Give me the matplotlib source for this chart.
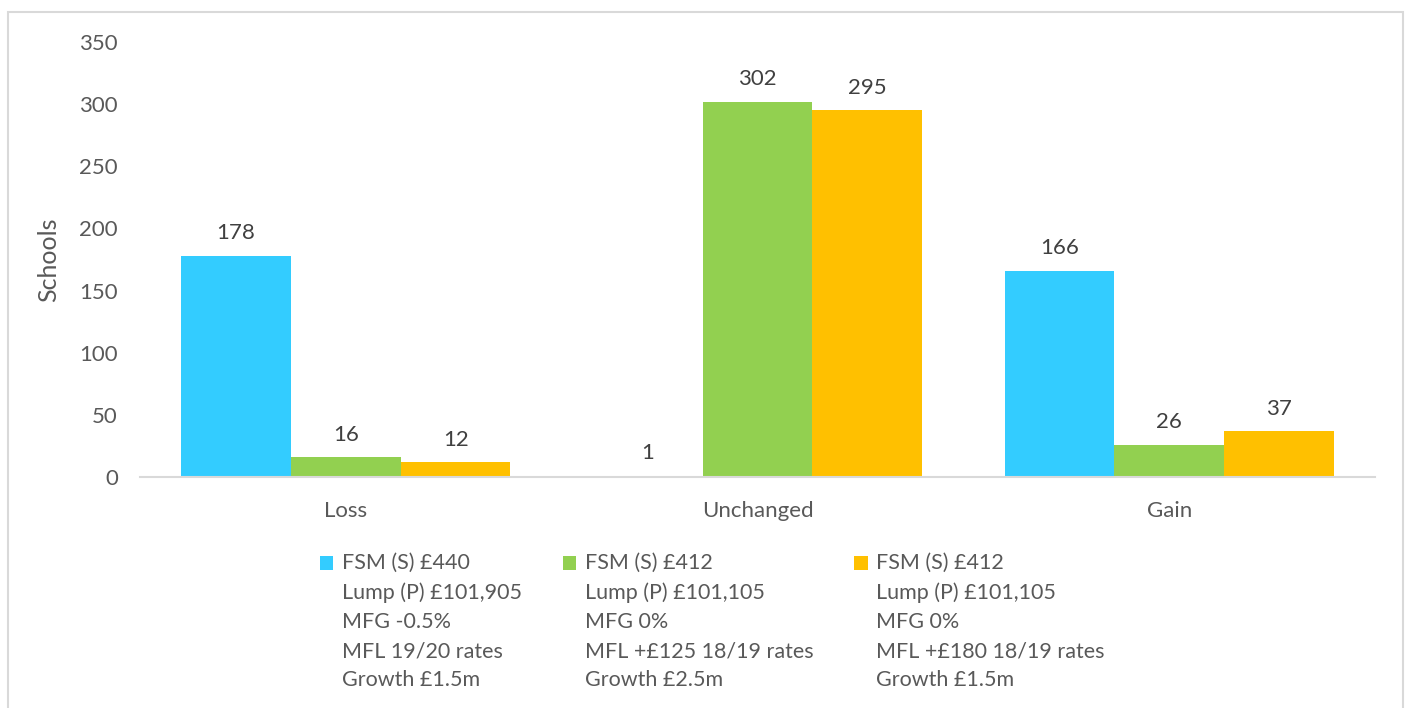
import matplotlib.pyplot as plt
import numpy as np
from matplotlib.patches import Rectangle
from matplotlib.legend_handler import HandlerPatch

# --- data ---
categories = ["Loss", "Unchanged", "Gain"]
series_labels = [
    "FSM (S) £440\nLump (P) £101,905\nMFG -0.5%\nMFL 19/20 rates\nGrowth £1.5m",
    "FSM (S) £412\nLump (P) £101,105\nMFG 0%\nMFL +£125 18/19 rates\nGrowth £2.5m",
    "FSM (S) £412\nLump (P) £101,105\nMFG 0%\nMFL +£180 18/19 rates\nGrowth £1.5m",
]
series_a = [178, 1, 166]
series_b = [16, 302, 26]
series_c = [12, 295, 37]
colors = ["#33CCFF", "#92D050", "#FFC000"]

TXT = "#595959"
FS = 16
plt.rcParams['font.family'] = ['Lato', 'DejaVu Sans']


# legend square sits next to the first line of a multi-line label
class TopSquare(HandlerPatch):
    def __init__(self, shift):
        super().__init__()
        self.shift = shift

    def create_artists(self, legend, orig_handle, xdescent, ydescent,
                       width, height, fontsize, trans):
        p = Rectangle((-xdescent, -ydescent + self.shift), width, height,
                      facecolor=orig_handle.get_facecolor(), edgecolor="none",
                      transform=trans)
        return [p]


fig = plt.figure(figsize=(14.06, 7.08), dpi=100)
ax = fig.add_axes([140/1406, 1-477/708, 1235/1406, 435/708])

x = np.arange(len(categories))
w = 0.8 / 3
handles = []
for i, (vals, col, lab) in enumerate(zip([series_a, series_b, series_c], colors, series_labels)):
    bars = ax.bar(x + (i - 1) * w, vals, width=w, color=col, label=lab, zorder=2)
    handles.append(bars)
    for b, v in zip(bars, vals):
        ax.annotate(str(v), (b.get_x() + b.get_width()/2, v), xytext=(0, 9),
                    textcoords="offset points", ha="center", va="bottom",
                    fontsize=FS, color="#404040")

ax.set_xlim(-0.5, 2.5)
ax.set_ylim(0, 350)
ax.set_yticks(range(0, 351, 50))
ax.set_xticks(x)
ax.set_xticklabels(categories)
for s in ["top", "right", "left"]:
    ax.spines[s].set_visible(False)
ax.spines["bottom"].set_color("#D9D9D9")
ax.spines["bottom"].set_linewidth(1.5)
ax.tick_params(axis="y", length=0, pad=16, labelsize=FS, labelcolor=TXT)
ax.tick_params(axis="x", length=0, pad=17, labelsize=FS, labelcolor=TXT)
ax.set_ylabel("Schools", fontsize=18, color=TXT, labelpad=14)

LFS = 15.5
line_h = 29 / 100 * 72  # px between legend text lines, in points
leg = fig.legend(handles=[h.patches[0] for h in handles], labels=series_labels,
                 loc="upper left", bbox_to_anchor=(320/1406, 1-553/708), ncol=3,
                 frameon=False, fontsize=LFS, handlelength=0.62, handleheight=0.62,
                 handletextpad=0.4, columnspacing=1.9, borderpad=0, borderaxespad=0,
                 handler_map={Rectangle: TopSquare(2 * line_h + 1)})
for t in leg.get_texts():
    t.set_color(TXT)
    t.set_linespacing(1.57)

fig.add_artist(Rectangle((8/1406, -0.05), (1403-8)/1406, 1.05 - 12/708,
                         transform=fig.transFigure, fill=False,
                         edgecolor="#D9D9D9", linewidth=1.5))

fig.savefig("out.png", dpi=100)
